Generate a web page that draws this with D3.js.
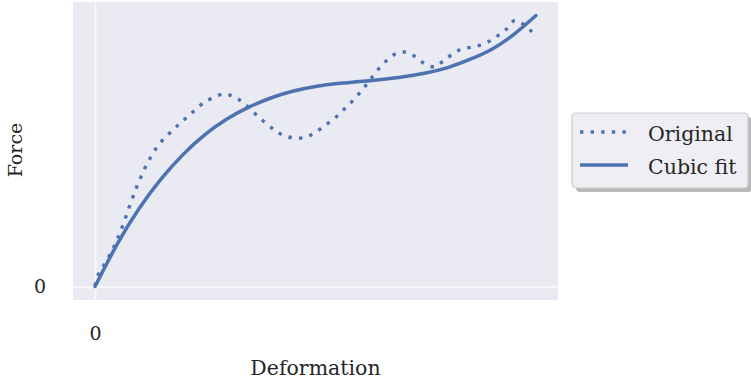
<!DOCTYPE html>
<html>
<head>
<meta charset="utf-8">
<script src="https://cdn.jsdelivr.net/npm/d3@7"></script>
<style>
  html, body { margin: 0; padding: 0; background: #ffffff; }
  svg { display: block; }
  text { font-family: "DejaVu Serif", serif; fill: #262626; }
</style>
</head>
<body>
<svg id="chart" width="751" height="380"></svg>
<script>
// Measured force/deformation curve
const originalX = [0.00, 0.05, 0.16, 0.39, 0.58, 0.82, 0.99, 1.19, 1.44, 1.77, 2.12, 2.50, 2.93, 3.15, 3.36, 3.71, 4.07, 4.28, 4.51, 4.76, 4.96, 5.16, 5.35, 5.54, 5.70, 5.87, 6.03, 6.18, 6.32, 6.47, 6.64, 6.83, 7.06, 7.27, 7.47, 7.70, 7.89, 8.08, 8.29, 8.51, 8.75, 8.97, 9.16, 9.34, 9.52, 9.71, 9.87, 9.99];
const originalY = [0.02, 0.36, 0.67, 1.35, 2.05, 3.15, 3.87, 4.58, 5.25, 5.81, 6.33, 6.85, 7.14, 7.03, 6.82, 6.29, 5.80, 5.60, 5.51, 5.53, 5.68, 5.90, 6.14, 6.39, 6.66, 6.93, 7.24, 7.54, 7.84, 8.14, 8.42, 8.64, 8.69, 8.52, 8.27, 8.15, 8.35, 8.59, 8.79, 8.87, 8.96, 9.12, 9.33, 9.56, 9.87, 9.73, 9.51, 9.27];

// Cubic fit sampled along the deformation range
const fitX = [0.0, 0.5, 1.0, 1.5, 2.0, 2.5, 3.0, 3.5, 4.0, 4.5, 5.0, 5.5, 6.0, 6.5, 7.0, 7.5, 8.0, 8.5, 9.0, 9.5, 10.0];
const fitY = [0.00, 1.56, 2.89, 3.99, 4.90, 5.64, 6.22, 6.66, 7.00, 7.25, 7.42, 7.53, 7.60, 7.68, 7.78, 7.92, 8.12, 8.42, 8.80, 9.35, 10.05];

const seriesNames = ["Original", "Cubic fit"];
const xTicks = [0];
const yTicks = [0];

const blue = "#4C72B0";
const svg = d3.select("#chart");
const plot = { left: 73, right: 558, top: 2, bottom: 300 };

function padded(vals) {
  const [lo, hi] = d3.extent(vals);
  const m = (hi - lo) * 0.05;
  return [lo - m, hi + m];
}

const x = d3.scaleLinear()
  .domain(padded(originalX.concat(fitX)))
  .range([plot.left, plot.right]);
const y = d3.scaleLinear()
  .domain(padded(originalY.concat(fitY)))
  .range([plot.bottom, plot.top]);

// axes background
svg.append("rect")
  .attr("x", plot.left).attr("y", plot.top)
  .attr("width", plot.right - plot.left).attr("height", plot.bottom - plot.top)
  .attr("fill", "#EAEAF2");

// grid lines
svg.append("g")
  .attr("transform", `translate(0,${plot.bottom})`)
  .call(d3.axisBottom(x).tickValues(xTicks).tickSize(-(plot.bottom - plot.top)).tickFormat(""))
  .call(g => g.select(".domain").remove())
  .call(g => g.selectAll("line").attr("stroke", "#ffffff").attr("stroke-width", 1.5).attr("stroke-opacity", 0.8));
svg.append("g")
  .attr("transform", `translate(${plot.left},0)`)
  .call(d3.axisLeft(y).tickValues(yTicks).tickSize(-(plot.right - plot.left)).tickFormat(""))
  .call(g => g.select(".domain").remove())
  .call(g => g.selectAll("line").attr("stroke", "#ffffff").attr("stroke-width", 1.5).attr("stroke-opacity", 0.8));

// tick labels
svg.append("g")
  .attr("transform", `translate(0,${plot.bottom})`)
  .call(d3.axisBottom(x).tickValues(xTicks).tickSize(0).tickPadding(27).tickFormat(d3.format("d")))
  .call(g => g.select(".domain").remove())
  .call(g => g.selectAll("text").attr("font-family", "DejaVu Serif").attr("font-size", 19).attr("fill", "#262626"));
svg.append("g")
  .attr("transform", `translate(${plot.left},0)`)
  .call(d3.axisLeft(y).tickValues(yTicks).tickSize(0).tickPadding(27).tickFormat(d3.format("d")))
  .call(g => g.select(".domain").remove())
  .call(g => g.selectAll("text").attr("font-family", "DejaVu Serif").attr("font-size", 19).attr("fill", "#262626"));

// axis titles
svg.append("text")
  .attr("x", (plot.left + plot.right) / 2).attr("y", 375)
  .attr("text-anchor", "middle").attr("font-size", 20.5)
  .text("Deformation");
svg.append("text")
  .attr("transform", "translate(22,150) rotate(-90)")
  .attr("text-anchor", "middle").attr("font-size", 19)
  .text("Force");

// curves
const origPts = originalX.map((v, i) => [v, originalY[i]]);
const fitPts = fitX.map((v, i) => [v, fitY[i]]);

svg.append("path")
  .attr("d", d3.line().x(d => x(d[0])).y(d => y(d[1])).curve(d3.curveCatmullRom)(origPts))
  .attr("fill", "none").attr("stroke", blue)
  .attr("stroke-width", 3.4).attr("stroke-dasharray", "3.4,7.2");

svg.append("path")
  .attr("d", d3.line().x(d => x(d[0])).y(d => y(d[1])).curve(d3.curveNatural)(fitPts))
  .attr("fill", "none").attr("stroke", blue)
  .attr("stroke-width", 3.5).attr("stroke-linecap", "round");

// legend
const lg = svg.append("g");
lg.append("rect")
  .attr("x", 576).attr("y", 117).attr("width", 176).attr("height", 75).attr("rx", 4)
  .attr("fill", "#8c8c8c").attr("opacity", 0.6);
lg.append("rect")
  .attr("x", 572).attr("y", 113).attr("width", 176).attr("height", 75).attr("rx", 4)
  .attr("fill", "#EEEEF4").attr("stroke", "#cccccc").attr("stroke-width", 1.2);

const rows = seriesNames.map((name, i) => ({ name, dashed: i === 0, cy: 132 + i * 33 }));
rows.forEach(r => {
  lg.append("line")
    .attr("x1", 580).attr("x2", 628).attr("y1", r.cy).attr("y2", r.cy)
    .attr("stroke", blue).attr("stroke-width", 3.4)
    .attr("stroke-dasharray", r.dashed ? "3.4,7.2" : null);
  lg.append("text")
    .attr("x", 648).attr("y", r.cy + 9)
    .attr("font-size", 20.5)
    .text(r.name);
});
</script>
</body>
</html>
